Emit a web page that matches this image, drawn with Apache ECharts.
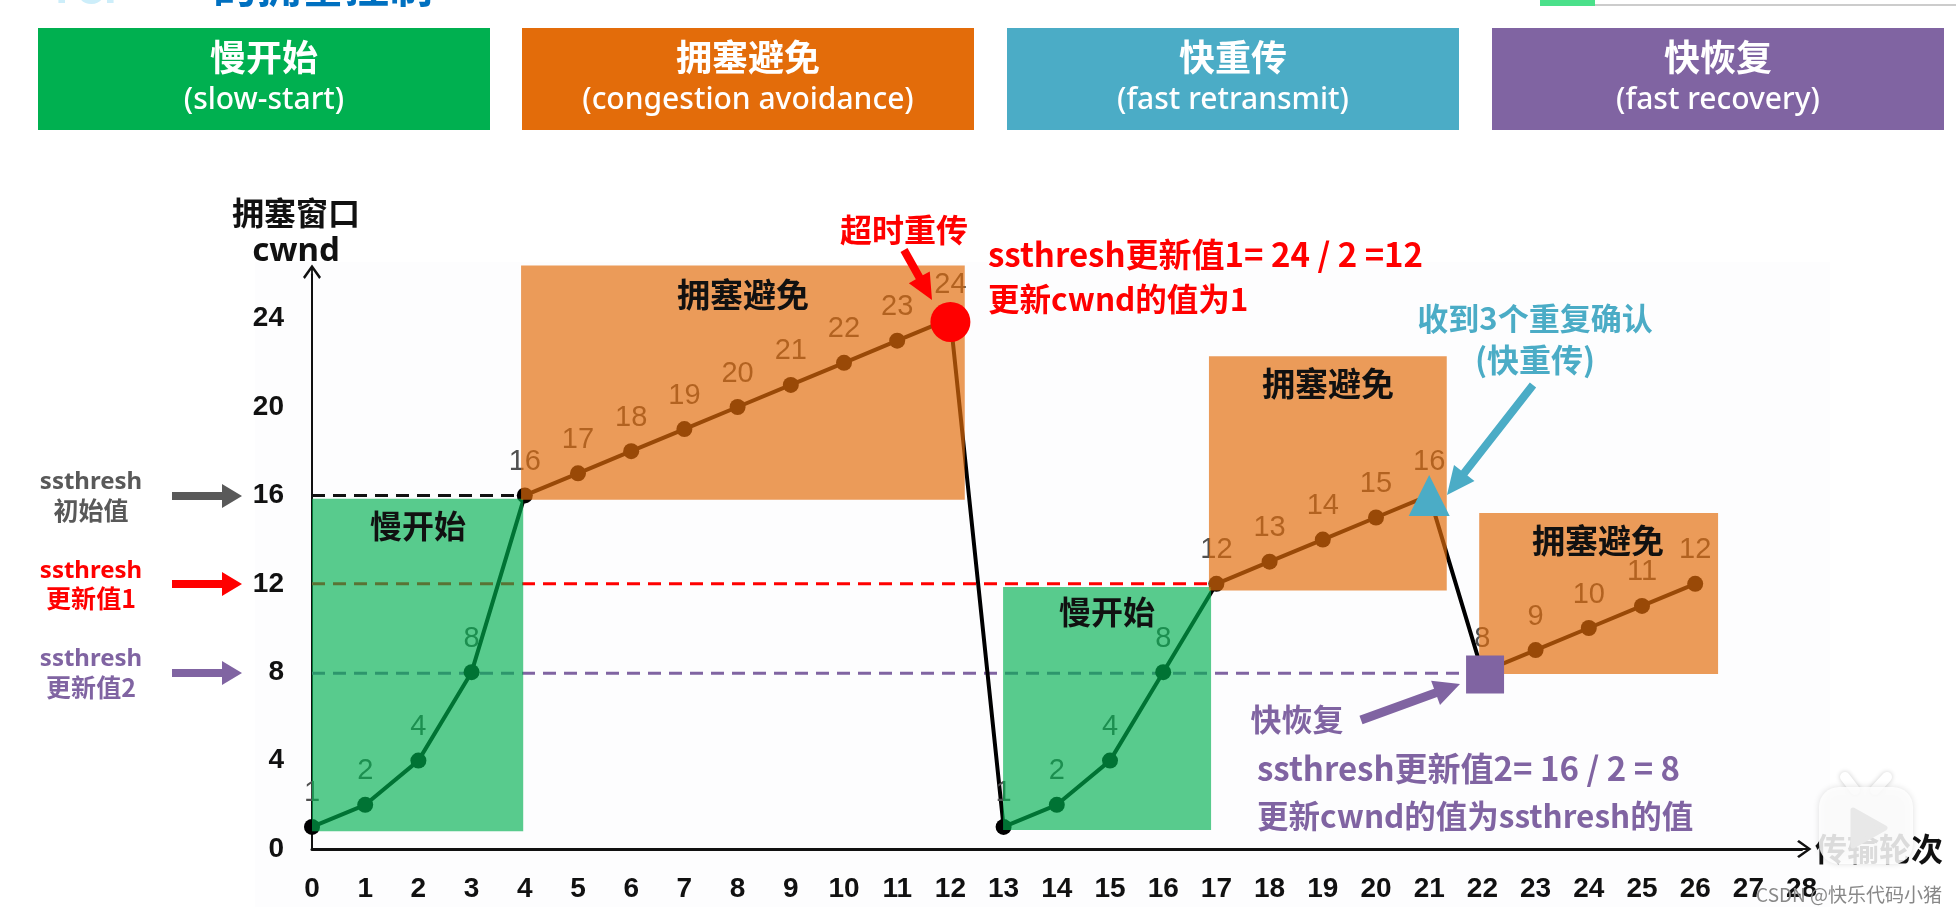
<!DOCTYPE html>
<html>
<head>
<meta charset="utf-8">
<style>html,body{margin:0;padding:0;background:#fff}#main{width:1956px;height:913px}</style>
<script src="https://cdn.jsdelivr.net/npm/echarts@6/dist/echarts.min.js"></script>
</head>
<body>
<div id="main"></div>
<script>
// 横轴 传输轮次, 纵轴 cwnd
var rounds = [0,1,2,3,4,5,6,7,8,9,10,11,12,13,14,15,16,17,18,19,20,21,22,23,24,25,26]
var cwnd = [1,2,4,8,16,17,18,19,20,21,22,23,24,1,2,4,8,12,13,14,15,16,8,9,10,11,12]
var yTicks = [0,4,8,12,16,20,24]

// ssthresh 虚线 [x起, x止, 值]
var ssthreshInit = [0,4,16]
var ssthreshOne = [0,17,12]
var ssthreshTwo = [0,22,7.95]

// 阶段色块 [x0, y0, x1, y1]
var slowStartAreas = [[0,15.85,3.97,0.8],[12.99,11.85,16.9,0.86]]
var avoidAreas = [[3.93,26.4,12.27,15.8],[16.86,22.3,21.33,11.7],[21.94,15.2,26.43,7.92]]

var timeoutPoint = [[12,23.85]]
var fastRetransmitPoint = [[21,16]]
var fastRecoveryPoint = [[22.05,7.9]]

var banners = [
	{ name: '慢开始', en: '(slow-start)', color: '#00b050', x: 38 },
	{ name: '拥塞避免', en: '(congestion avoidance)', color: '#e36c0a', x: 522 },
	{ name: '快重传', en: '(fast retransmit)', color: '#4bacc6', x: 1007 },
	{ name: '快恢复', en: '(fast recovery)', color: '#8064a2', x: 1492 }
]

var cjk = '"Noto Sans CJK SC", sans-serif'
var latin = '"Noto Sans", sans-serif'
var digits = '"Liberation Sans", sans-serif'
var grey = '#595959', red = '#ff0000', purple = '#8064a2', blue = '#4bacc6'

function txt(text, x, y, size, color, align, weight, family) {
	return {
		type: 'text', x: x, y: y, z: 10, silent: true,
		style: {
			text: text, fill: color, fontSize: size, fontWeight: weight || 'bold',
			fontFamily: family || cjk, align: align || 'center', verticalAlign: 'middle'
		}
	}
}

// 粗箭头
function arrow(x1, y1, x2, y2, color, w, headW, headL) {
	var len = Math.sqrt((x2-x1)*(x2-x1) + (y2-y1)*(y2-y1))
	var ux = (x2-x1)/len, uy = (y2-y1)/len
	var nx = -uy, ny = ux
	var bx = x2 - ux*headL, by = y2 - uy*headL
	return {
		type: 'polygon', z: 10, silent: true,
		shape: { points: [
			[x1+nx*w/2, y1+ny*w/2], [bx+nx*w/2, by+ny*w/2], [bx+nx*headW/2, by+ny*headW/2],
			[x2, y2],
			[bx-nx*headW/2, by-ny*headW/2], [bx-nx*w/2, by-ny*w/2], [x1-nx*w/2, y1-ny*w/2]
		] },
		style: { fill: color }
	}
}

var graphics = [
	{ type: 'rect', z: -1, silent: true, shape: { x: 255, y: 262, width: 1575, height: 645 }, style: { fill: '#fdfdfe' } },
	// 顶部被裁掉的标题和进度条
	txt('TCP', 48, -14, 44, '#cdeefa', 'left'),
	txt('的拥塞控制', 213, -14, 44, '#0070c0', 'left'),
	{ type: 'rect', z: 10, silent: true, shape: { x: 1595, y: 4, width: 361, height: 2 }, style: { fill: '#cccccc' } },
	{ type: 'rect', z: 10, silent: true, shape: { x: 1540, y: 0, width: 55, height: 6 }, style: { fill: '#4be08a' } }
]

banners.forEach(function (b) {
	graphics.push({ type: 'rect', z: 10, silent: true, shape: { x: b.x, y: 28, width: 452, height: 102 }, style: { fill: b.color } })
	graphics.push(txt(b.name, b.x + 226, 57, 36, '#fff'))
	graphics.push(txt(b.en, b.x + 226, 100, 30, '#fff', 'center', 500, latin))
})

graphics = graphics.concat([
	txt('拥塞窗口', 296, 213, 32, '#111'),
	txt('cwnd', 296, 252, 33, '#111', 'center', 'bold', latin),
	txt('传输轮次', 1879, 849, 32, '#111'),

	txt('ssthresh', 91, 482, 24, grey, 'center', 'bold', latin),
	txt('初始值', 91, 510, 25, grey),
	txt('ssthresh', 91, 571, 24, red, 'center', 'bold', latin),
	txt('更新值1', 91, 598, 25, red),
	txt('ssthresh', 91, 659, 24, purple, 'center', 'bold', latin),
	txt('更新值2', 91, 687, 25, purple),
	arrow(172, 496, 242, 496, grey, 8, 24, 20),
	arrow(172, 584, 242, 584, red, 8, 24, 20),
	arrow(172, 673, 242, 673, purple, 8, 24, 20),

	txt('拥塞避免', 743, 294, 33, '#111'),
	txt('拥塞避免', 1328, 383, 33, '#111'),
	txt('拥塞避免', 1598, 540, 33, '#111'),
	txt('慢开始', 418, 526, 32, '#111'),
	txt('慢开始', 1107, 612, 32, '#111'),

	txt('超时重传', 904, 230, 32, red),
	arrow(904, 250, 932, 300, red, 8, 24, 26),
	txt('ssthresh更新值1= 24 / 2 =12', 988, 254, 33, red, 'left'),
	txt('更新cwnd的值为1', 988, 299, 31.5, red, 'left'),

	txt('收到3个重复确认', 1535, 318, 31, blue),
	txt('(快重传)', 1535, 360, 32, blue),
	arrow(1533, 385, 1447, 495, blue, 8, 26, 28),

	txt('快恢复', 1297, 719, 31, purple),
	arrow(1361, 720, 1460, 684, purple, 9, 26, 26),
	txt('ssthresh更新值2= 16 / 2 = 8', 1257, 768, 33, purple, 'left'),
	txt('更新cwnd的值为ssthresh的值', 1257, 816, 31.5, purple, 'left'),

	// 右下角水印
	{ type: 'line', z: 20, silent: true, shape: { x1: 1855, y1: 790, x2: 1845, y2: 777 },
		style: { stroke: '#fff', lineWidth: 10, lineCap: 'round', shadowBlur: 5, shadowColor: 'rgba(0,0,0,0.2)' } },
	{ type: 'line', z: 20, silent: true, shape: { x1: 1875, y1: 790, x2: 1887, y2: 777 },
		style: { stroke: '#fff', lineWidth: 10, lineCap: 'round', shadowBlur: 5, shadowColor: 'rgba(0,0,0,0.2)' } },
	{ type: 'rect', z: 20, silent: true, shape: { x: 1819, y: 787, width: 94, height: 77, r: 20 },
		style: { fill: 'rgba(255,255,255,0.85)', shadowBlur: 6, shadowColor: 'rgba(0,0,0,0.15)' } },
	{ type: 'polygon', z: 21, silent: true, shape: { points: [[1853,810],[1885,828],[1853,846]] },
		style: { fill: '#e8e8e8', stroke: '#e8e8e8', lineWidth: 5, lineJoin: 'round' } },
	{ type: 'text', x: 1942, y: 895, z: 22, silent: true,
		style: { text: 'CSDN @快乐代码小猪', fill: '#888', fontSize: 19, fontFamily: cjk, align: 'right', verticalAlign: 'middle' } }
])

function pairs(xs, ys) {
	return xs.map(function (x, i) { return [x, ys[i]] })
}

function dashLine(th, color) {
	return {
		type: 'line', z: 1, silent: true, clip: false, symbol: 'none',
		data: [[th[0], th[2]], [th[1], th[2]]],
		lineStyle: { color: color, width: 3, type: [13, 8] }
	}
}

function areaSeries(rows, color) {
	return {
		type: 'custom', z: 3, silent: true, clip: false,
		data: rows,
		renderItem: function (params, api) {
			var a = api.coord([api.value(0), api.value(1)])
			var b = api.coord([api.value(2), api.value(3)])
			return { type: 'rect', shape: { x: a[0], y: a[1], width: b[0]-a[0], height: b[1]-a[1] }, style: { fill: color } }
		}
	}
}

function markPoint(data, symbol, size, color) {
	return {
		type: 'scatter', z: 4, silent: true, clip: false,
		data: data, symbol: symbol, symbolSize: size, itemStyle: { color: color, opacity: 1 }
	}
}

var axisArrow = 'path://M10,0 L20,14 L18,16 L11,6 L11,22 L9,22 L9,6 L2,16 L0,14 Z'

var option = {
	animation: false,
	backgroundColor: '#fff',
	graphic: { elements: graphics },
	grid: { left: 312, top: 274.4, width: 1489.6, height: 574.6 },
	xAxis: {
		type: 'value', min: 0, max: 28, interval: 1,
		splitLine: { show: false }, axisTick: { show: false },
		axisLine: { onZero: false, symbol: ['none', axisArrow], symbolSize: [18, 20], lineStyle: { color: '#111', width: 3 } },
		axisLabel: { color: '#111', fontSize: 28, fontWeight: 'bold', fontFamily: digits, margin: 26, showMinLabel: true, showMaxLabel: true, hideOverlap: false }
	},
	yAxis: {
		type: 'value', min: 0, max: 26,
		splitLine: { show: false }, axisTick: { show: false },
		axisLine: { show: true, onZero: false, symbol: ['none', axisArrow], symbolSize: [18, 20], lineStyle: { color: '#111', width: 2 } },
		axisLabel: { color: '#111', fontSize: 28, fontWeight: 'bold', fontFamily: digits, margin: 28, customValues: yTicks, showMinLabel: true }
	},
	series: [
		dashLine(ssthreshInit, '#111'),
		dashLine(ssthreshOne, red),
		dashLine(ssthreshTwo, purple),
		{
			type: 'line', z: 2, silent: true, clip: false,
			data: pairs(rounds, cwnd),
			symbol: 'circle', symbolSize: 16,
			lineStyle: { color: '#000', width: 4 },
			itemStyle: { color: '#000' },
			label: { show: true, position: 'top', distance: 11, color: '#505050', fontSize: 29, fontFamily: digits,
				formatter: function (p) { return p.value[1] } }
		},
		areaSeries(slowStartAreas, 'rgba(0,176,80,0.65)'),
		areaSeries(avoidAreas, 'rgba(226,107,10,0.68)'),
		markPoint(timeoutPoint, 'circle', 40, red),
		markPoint(fastRetransmitPoint, 'triangle', 41, blue),
		markPoint(fastRecoveryPoint, 'rect', 38, purple)
	]
}

var myChart = echarts.init(document.getElementById('main'))
myChart.setOption(option)
</script>
</body>
</html>
